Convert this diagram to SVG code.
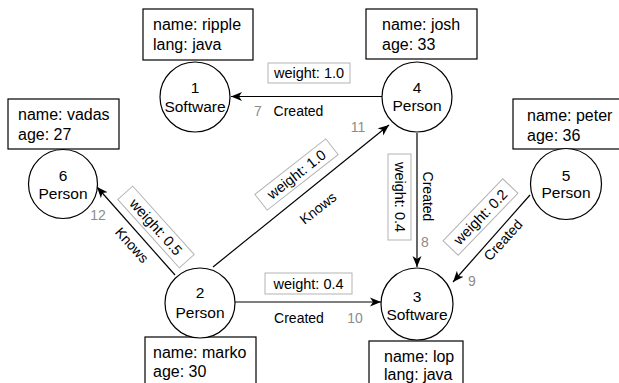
<svg xmlns="http://www.w3.org/2000/svg" width="619" height="383" viewBox="0 0 619 383">
  <defs>
    <marker id="arrow" markerUnits="userSpaceOnUse" markerWidth="12" markerHeight="10" refX="11" refY="5" orient="auto">
      <path d="M0,0.5 L11,5 L0,9.5 L3,5 Z" fill="#000"/>
    </marker>
    <style>
      text { font-family: "Liberation Sans", Arial, Helvetica, sans-serif; fill: #000; }
      .node circle { fill: #fff; stroke: #000; stroke-width: 1.2; }
      .node text { font-size: 15.5px; text-anchor: middle; }
      .props rect { fill: #fff; stroke: #000; stroke-width: 1.2; }
      .props text { font-size: 16px; }
      .edges line { stroke: #000; stroke-width: 1.2; marker-end: url(#arrow); }
      .wbox rect { fill: #fff; stroke: #b3b3b3; stroke-width: 1; }
      .wbox text { font-size: 14.5px; text-anchor: middle; dominant-baseline: central; }
      .rel { font-size: 14px; text-anchor: middle; dominant-baseline: central; }
      .eid { font-size: 14px; fill: #8c8c8c; text-anchor: middle; dominant-baseline: central; }
    </style>
  </defs>

  <rect width="619" height="383" fill="#fff"/>

  <!-- connectors -->
  <g id="edges" class="edges">
    <line id="e7" x1="382" y1="96.5" x2="231" y2="96.5"/>
    <line id="e11" x1="213" y1="267" x2="389" y2="125"/>
    <line id="e8" x1="417" y1="133" x2="417" y2="267"/>
    <line id="e9" x1="530" y1="195" x2="453" y2="282"/>
    <line id="e12" x1="175" y1="275" x2="97" y2="187"/>
    <line id="e10" x1="235" y1="302" x2="381" y2="302"/>
  </g>

  <!-- edge labels -->
  <g id="edge-labels">
    <g class="wbox"><rect x="268" y="63" width="82" height="20"/><text x="309" y="73">weight: 1.0</text></g>
    <text class="eid" x="258" y="111">7</text>
    <text class="rel" x="298.5" y="111">Created</text>

    <g class="wbox" transform="translate(296.5,174.5) rotate(-38)"><rect x="-45" y="-10" width="90" height="20"/><text x="0" y="0">weight: 1.0</text></g>
    <text class="rel" transform="translate(318,208) rotate(-38)" x="0" y="0">Knows</text>
    <text class="eid" x="358" y="127">11</text>

    <g class="wbox" transform="translate(399.5,197) rotate(90)"><rect x="-43" y="-11.5" width="86" height="23"/><text x="0" y="0">weight: 0.4</text></g>
    <text class="rel" transform="translate(428,196.5) rotate(90)" x="0" y="0">Created</text>
    <text class="eid" x="425" y="242">8</text>

    <g class="wbox" transform="translate(480.5,217) rotate(-46)"><rect x="-43" y="-10.5" width="86" height="21"/><text x="0" y="0">weight: 0.2</text></g>
    <text class="rel" transform="translate(503,240) rotate(-48)" x="0" y="0">Created</text>
    <text class="eid" x="472" y="281">9</text>

    <g class="wbox" transform="translate(156,227) rotate(48)"><rect x="-46" y="-10" width="92" height="20"/><text x="0" y="0">weight: 0.5</text></g>
    <text class="rel" transform="translate(132,245) rotate(48)" x="0" y="0">Knows</text>
    <text class="eid" x="98" y="215">12</text>

    <g class="wbox"><rect x="265" y="273" width="87" height="21"/><text x="308.5" y="283.5">weight: 0.4</text></g>
    <text class="rel" x="299" y="318">Created</text>
    <text class="eid" x="355" y="318">10</text>
  </g>

  <!-- node 1: Software -->
  <g id="node1">
    <g class="props"><rect x="143" y="9" width="110" height="51"/><text x="153" y="30">name: ripple</text><text x="153" y="50">lang: java</text></g>
    <g class="node"><circle cx="195" cy="97" r="35"/><text x="195" y="93">1</text><text x="195" y="112">Software</text></g>
  </g>

  <!-- node 4: Person -->
  <g id="node4">
    <g class="props"><rect x="366" y="9" width="111" height="50"/><text x="382" y="30">name: josh</text><text x="382" y="50">age: 33</text></g>
    <g class="node"><circle cx="417" cy="97" r="35"/><text x="417" y="93">4</text><text x="417" y="111">Person</text></g>
  </g>

  <!-- node 6: Person -->
  <g id="node6">
    <g class="props"><rect x="8" y="99" width="111" height="50"/><text x="18" y="120">name: vadas</text><text x="18" y="140">age: 27</text></g>
    <g class="node"><circle cx="63" cy="184" r="34.5"/><text x="63" y="181">6</text><text x="63" y="199">Person</text></g>
  </g>

  <!-- node 5: Person -->
  <g id="node5">
    <g class="props"><rect x="513" y="99" width="112" height="50"/><text x="527" y="121">name: peter</text><text x="527" y="141">age: 36</text></g>
    <g class="node"><circle cx="566" cy="184" r="35.5"/><text x="566" y="181">5</text><text x="566" y="198">Person</text></g>
  </g>

  <!-- node 2: Person -->
  <g id="node2">
    <g class="props"><rect x="145" y="337" width="111" height="52"/><text x="153" y="358">name: marko</text><text x="153" y="377">age: 30</text></g>
    <g class="node"><circle cx="200" cy="303" r="35"/><text x="200" y="298">2</text><text x="200" y="318">Person</text></g>
  </g>

  <!-- node 3: Software -->
  <g id="node3">
    <g class="props"><rect x="369" y="341" width="94" height="48"/><text x="384" y="362">name: lop</text><text x="384" y="380">lang: java</text></g>
    <g class="node"><circle cx="417" cy="304" r="36"/><text x="417" y="302">3</text><text x="417" y="320">Software</text></g>
  </g>
</svg>
